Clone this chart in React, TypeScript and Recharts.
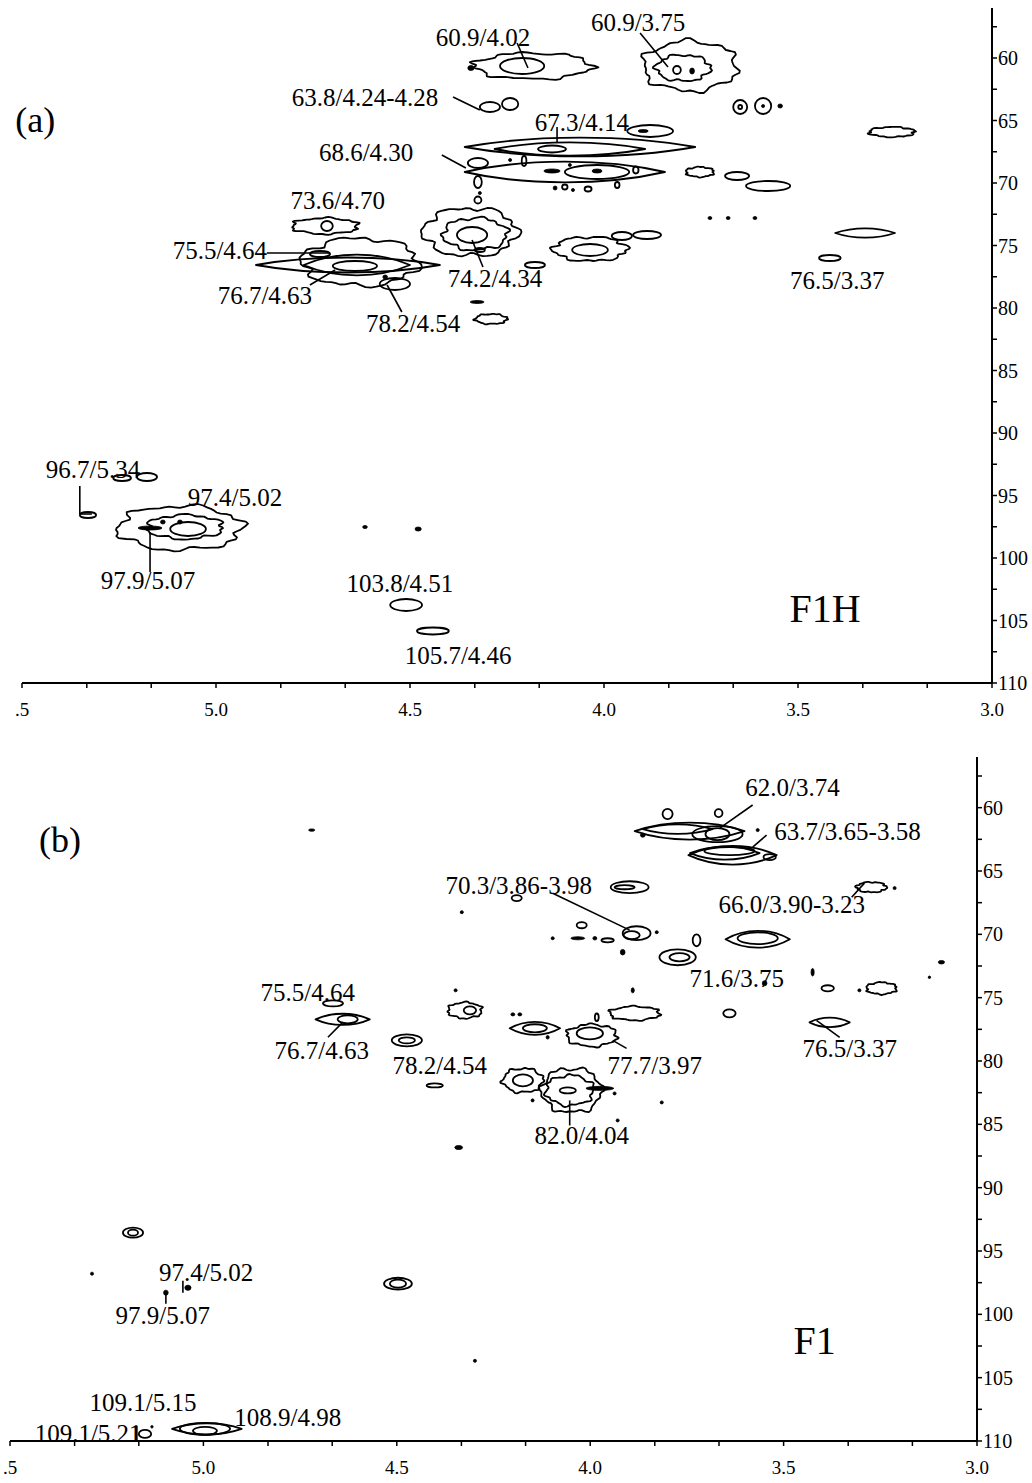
import React from 'react';
import { ComposedChart, XAxis, YAxis, Scatter, ReferenceArea, ReferenceLine, ReferenceDot } from 'recharts';

// [1H ppm, 13C ppm, half-width (ppm 1H), half-height (ppm 13C), kind]
// kind: e=contour ring, w=irregular contour ring, l=elongated contour, f=filled spot
type Contour = [number, number, number, number, string];
type Label = [string, number, number];
type Leader = [number, number, number, number];

const xTicks = [5.5, 5.333, 5.167, 5.0, 4.833, 4.667, 4.5, 4.333, 4.167, 4.0, 3.833, 3.667, 3.5, 3.333, 3.167, 3.0];
const xTickLabels: Record<string, string> = { '5.5': '.5', '5': '5.0', '4.5': '4.5', '4': '4.0', '3.5': '3.5', '3': '3.0' };
const yTicks = [57.5, 60, 62.5, 65, 67.5, 70, 72.5, 75, 77.5, 80, 82.5, 85, 87.5, 90, 92.5, 95, 97.5, 100, 102.5, 105, 107.5, 110];
const yTickLabels = [60, 65, 70, 75, 80, 85, 90, 95, 100, 105, 110];

const contoursA: Contour[] = [
  [4.183, 60.64, 0.150, 1.04, 'w'], [4.211, 60.64, 0.057, 0.64, 'e'], [4.343, 60.80, 0.008, 0.2, 'f'],
  [3.778, 60.64, 0.121, 2.0, 'w'], [3.796, 60.80, 0.070, 1.04, 'w'], [3.812, 60.96, 0.010, 0.32, 'e'], [3.773, 61.04, 0.006, 0.24, 'f'],
  [4.294, 63.92, 0.026, 0.40, 'e'], [4.242, 63.68, 0.021, 0.48, 'e'],
  [3.649, 63.92, 0.018, 0.56, 'e'], [3.649, 63.92, 0.005, 0.16, 'e'], [3.590, 63.84, 0.021, 0.64, 'e'], [3.590, 63.84, 0.004, 0.12, 'f'], [3.546, 63.84, 0.006, 0.16, 'f'],
  [4.062, 67.12, 0.297, 0.80, 'l'], [4.088, 67.28, 0.194, 0.56, 'l'], [4.134, 67.28, 0.036, 0.28, 'e'],
  [4.101, 69.12, 0.258, 0.88, 'l'], [4.018, 69.12, 0.083, 0.56, 'e'], [4.134, 69.04, 0.021, 0.16, 'f'], [4.018, 69.04, 0.013, 0.16, 'f'],
  [4.325, 68.40, 0.026, 0.40, 'e'], [4.325, 69.92, 0.010, 0.48, 'e'],
  [3.881, 65.84, 0.059, 0.48, 'e'], [3.899, 65.84, 0.013, 0.12, 'f'],
  [4.242, 68.16, 0.004, 0.12, 'f'], [4.206, 68.24, 0.006, 0.40, 'e'], [4.088, 68.56, 0.004, 0.12, 'f'],
  [4.126, 70.40, 0.005, 0.16, 'f'], [4.101, 70.32, 0.007, 0.20, 'e'], [4.080, 70.56, 0.004, 0.12, 'f'], [4.041, 70.48, 0.009, 0.20, 'e'],
  [3.966, 70.16, 0.006, 0.24, 'e'], [3.918, 68.96, 0.007, 0.28, 'e'],
  [4.325, 71.36, 0.009, 0.28, 'e'], [4.320, 70.80, 0.004, 0.12, 'f'],
  [3.753, 69.12, 0.036, 0.40, 'w'], [3.657, 69.44, 0.031, 0.32, 'e'], [3.577, 70.24, 0.057, 0.40, 'e'], [3.258, 65.92, 0.059, 0.40, 'w'],
  [3.727, 72.80, 0.005, 0.12, 'f'], [3.680, 72.80, 0.005, 0.12, 'f'], [3.611, 72.80, 0.005, 0.12, 'f'],
  [3.327, 74.00, 0.077, 0.40, 'l'], [3.418, 76.00, 0.028, 0.24, 'e'],
  [4.345, 73.92, 0.121, 1.92, 'w'], [4.332, 74.08, 0.083, 1.28, 'w'], [4.340, 74.16, 0.039, 0.64, 'e'], [4.320, 75.36, 0.013, 0.16, 'e'],
  [4.036, 75.28, 0.095, 0.96, 'w'], [4.036, 75.36, 0.046, 0.48, 'e'], [3.954, 74.24, 0.026, 0.32, 'e'], [3.889, 74.16, 0.036, 0.32, 'e'],
  [4.178, 76.56, 0.026, 0.24, 'e'],
  [4.719, 73.44, 0.085, 0.64, 'w'], [4.714, 73.44, 0.015, 0.40, 'e'],
  [4.660, 76.56, 0.237, 0.64, 'l'], [4.637, 76.56, 0.137, 0.88, 'l'], [4.642, 76.64, 0.057, 0.40, 'e'], [4.629, 76.32, 0.150, 1.90, 'w'],
  [4.539, 78.08, 0.039, 0.48, 'e'], [4.564, 77.52, 0.006, 0.16, 'f'], [4.732, 75.68, 0.026, 0.24, 'e'],
  [4.327, 79.52, 0.018, 0.12, 'f'], [4.291, 80.88, 0.041, 0.40, 'w'],
  [5.242, 93.60, 0.023, 0.24, 'e'], [5.178, 93.52, 0.026, 0.32, 'e'], [5.330, 96.56, 0.021, 0.24, 'e'],
  [5.093, 97.60, 0.160, 1.76, 'w'], [5.080, 97.52, 0.098, 0.96, 'w'], [5.072, 97.68, 0.046, 0.56, 'e'],
  [5.170, 97.60, 0.031, 0.16, 'f'], [5.137, 97.12, 0.006, 0.16, 'f'], [5.093, 97.12, 0.006, 0.16, 'f'],
  [4.616, 97.52, 0.006, 0.12, 'f'], [4.479, 97.68, 0.008, 0.16, 'f'],
  [4.510, 103.76, 0.041, 0.48, 'e'], [4.441, 105.84, 0.041, 0.28, 'e'],
];

const labelsA: Label[] = [
  ['60.9/4.02', 4.312, 58.32], ['60.9/3.75', 3.912, 57.12], ['63.8/4.24-4.28', 4.616, 63.12],
  ['67.3/4.14', 4.057, 65.12], ['68.6/4.30', 4.613, 67.52], ['73.6/4.70', 4.686, 71.36],
  ['75.5/4.64', 4.990, 75.36], ['74.2/4.34', 4.281, 77.60], ['76.7/4.63', 4.874, 78.96],
  ['78.2/4.54', 4.492, 81.20], ['76.5/3.37', 3.399, 77.76], ['96.7/5.34', 5.317, 92.88],
  ['97.4/5.02', 4.951, 95.12], ['97.9/5.07', 5.175, 101.76], ['103.8/4.51', 4.526, 102.0],
  ['105.7/4.46', 4.376, 107.76],
];

const leadersA: Leader[] = [
  [4.224, 58.80, 4.196, 60.80], [3.907, 58.0, 3.835, 60.72], [4.389, 63.12, 4.320, 64.16],
  [4.121, 65.52, 4.121, 66.72], [4.418, 67.76, 4.356, 68.80], [4.340, 74.56, 4.312, 76.72],
  [4.869, 75.60, 4.706, 75.60], [4.758, 78.16, 4.693, 76.96], [4.559, 78.16, 4.521, 80.32],
  [5.351, 94.24, 5.351, 96.48], [5.351, 96.48, 5.320, 96.48], [5.170, 97.92, 5.170, 101.12],
];

const contoursB: Contour[] = [
  [3.743, 61.85, 0.142, 0.71, 'l'], [3.774, 61.69, 0.090, 0.40, 'l'], [3.671, 62.09, 0.065, 0.63, 'e'], [3.671, 62.09, 0.031, 0.47, 'e'],
  [3.800, 60.50, 0.013, 0.40, 'e'], [3.668, 60.43, 0.010, 0.32, 'e'], [3.864, 62.17, 0.006, 0.16, 'f'], [3.567, 61.77, 0.004, 0.12, 'f'],
  [3.632, 63.75, 0.114, 0.79, 'l'], [3.652, 63.59, 0.090, 0.55, 'l'], [3.640, 63.43, 0.065, 0.32, 'e'], [3.536, 63.90, 0.016, 0.24, 'e'],
  [3.898, 66.28, 0.049, 0.47, 'e'], [3.911, 66.28, 0.026, 0.16, 'e'], [4.190, 67.14, 0.013, 0.24, 'e'],
  [3.273, 66.28, 0.039, 0.40, 'w'], [3.213, 66.35, 0.004, 0.12, 'f'],
  [3.880, 69.91, 0.036, 0.55, 'e'], [3.893, 70.07, 0.021, 0.32, 'e'], [4.022, 69.28, 0.013, 0.24, 'e'],
  [4.032, 70.31, 0.018, 0.12, 'f'], [3.988, 70.31, 0.005, 0.14, 'f'], [3.955, 70.47, 0.016, 0.16, 'e'],
  [3.916, 71.41, 0.006, 0.22, 'f'], [4.097, 70.31, 0.004, 0.12, 'f'], [4.332, 68.25, 0.004, 0.12, 'f'], [3.828, 69.83, 0.004, 0.12, 'f'],
  [3.725, 70.47, 0.010, 0.47, 'e'],
  [3.567, 70.39, 0.083, 0.71, 'l'], [3.567, 70.31, 0.052, 0.47, 'e'],
  [3.774, 71.81, 0.047, 0.63, 'e'], [3.769, 71.81, 0.026, 0.32, 'e'], [3.549, 73.86, 0.006, 0.20, 'f'],
  [3.425, 72.99, 0.004, 0.30, 'f'], [3.386, 74.26, 0.016, 0.24, 'e'], [3.304, 74.42, 0.004, 0.12, 'f'], [3.247, 74.26, 0.039, 0.47, 'w'],
  [3.092, 72.20, 0.008, 0.14, 'f'], [3.123, 73.39, 0.003, 0.10, 'f'],
  [3.381, 76.95, 0.052, 0.40, 'l'],
  [3.885, 76.24, 0.065, 0.55, 'w'], [3.890, 74.42, 0.004, 0.20, 'f'], [3.640, 76.24, 0.016, 0.32, 'e'],
  [4.324, 76.00, 0.044, 0.63, 'w'], [4.311, 76.00, 0.016, 0.32, 'e'], [4.348, 74.42, 0.004, 0.12, 'f'],
  [4.143, 77.42, 0.065, 0.55, 'l'], [4.143, 77.42, 0.031, 0.32, 'e'], [4.200, 76.32, 0.005, 0.12, 'f'], [4.182, 76.32, 0.005, 0.12, 'f'], [4.110, 78.13, 0.004, 0.14, 'f'],
  [3.996, 77.98, 0.065, 0.87, 'w'], [4.001, 77.82, 0.034, 0.47, 'e'], [3.983, 76.55, 0.005, 0.30, 'e'],
  [4.474, 78.37, 0.039, 0.47, 'e'], [4.474, 78.37, 0.021, 0.24, 'e'], [4.402, 81.93, 0.021, 0.16, 'e'],
  [4.665, 75.45, 0.026, 0.24, 'e'], [4.640, 76.71, 0.070, 0.47, 'l'], [4.627, 76.71, 0.026, 0.32, 'e'],
  [4.048, 82.32, 0.078, 1.74, 'w'], [4.053, 82.32, 0.062, 1.19, 'w'], [4.058, 82.32, 0.021, 0.24, 'e'], [3.975, 82.16, 0.036, 0.16, 'f'],
  [4.174, 81.53, 0.052, 0.95, 'w'], [4.174, 81.53, 0.026, 0.47, 'e'],
  [4.149, 83.11, 0.004, 0.12, 'f'], [3.937, 82.56, 0.004, 0.12, 'f'], [3.815, 83.27, 0.004, 0.12, 'f'], [3.929, 84.69, 0.004, 0.12, 'f'], [4.340, 86.83, 0.010, 0.16, 'f'],
  [5.182, 93.55, 0.026, 0.40, 'e'], [5.182, 93.55, 0.013, 0.24, 'e'], [5.288, 96.79, 0.004, 0.12, 'f'],
  [5.040, 97.90, 0.008, 0.20, 'f'], [5.097, 98.29, 0.006, 0.20, 'f'],
  [4.497, 97.58, 0.036, 0.47, 'e'], [4.497, 97.58, 0.021, 0.32, 'e'], [4.298, 103.67, 0.004, 0.12, 'f'],
  [5.151, 109.44, 0.016, 0.32, 'e'], [5.133, 108.88, 0.003, 0.10, 'f'],
  [4.991, 109.04, 0.090, 0.47, 'l'], [4.996, 109.04, 0.065, 0.47, 'e'], [4.996, 109.20, 0.031, 0.32, 'e'],
  [4.720, 61.77, 0.008, 0.06, 'f'],
];

const labelsB: Label[] = [
  ['62.0/3.74', 3.477, 58.37], ['63.7/3.65-3.58', 3.335, 61.85], ['70.3/3.86-3.98', 4.185, 66.12],
  ['66.0/3.90-3.23', 3.479, 67.62], ['71.6/3.75', 3.621, 73.47], ['75.5/4.64', 4.730, 74.58],
  ['76.7/4.63', 4.694, 79.16], ['78.2/4.54', 4.389, 80.35], ['77.7/3.97', 3.833, 80.35],
  ['76.5/3.37', 3.329, 79.00], ['82.0/4.04', 4.022, 85.88], ['97.4/5.02', 4.993, 96.71],
  ['97.9/5.07', 5.105, 100.11], ['109.1/5.15', 5.156, 106.99], ['109.1/5.21', 5.298, 109.44],
  ['108.9/4.98', 4.782, 108.17],
];

const leadersB: Leader[] = [
  [3.580, 59.79, 3.665, 61.61], [3.544, 62.17, 3.580, 63.11], [3.324, 67.07, 3.291, 65.96],
  [4.097, 66.75, 3.898, 69.67], [3.355, 78.13, 3.415, 76.79], [3.942, 78.37, 3.906, 79.00],
  [4.678, 78.13, 4.640, 76.95], [4.053, 83.11, 4.053, 85.09], [5.053, 97.34, 5.053, 98.29],
  [5.097, 98.29, 5.097, 99.16], [5.172, 108.80, 5.172, 109.99],
];

const panelTags: Label[] = [['(a)', 5.466, 64.96], ['(b)', 5.371, 62.56]];
const sampleNames: Label[] = [['F1H', 3.430, 104.0], ['F1', 3.420, 102.09]];

const FONT = "'Liberation Serif', 'Times New Roman', serif";

const contourShape = (kind: string, seed: number) => (p: any) => {
  const { x, y, width, height } = p;
  if (![x, y, width, height].every((v) => Number.isFinite(v))) return <g />;
  const rx = Math.abs(width) / 2;
  const ry = Math.abs(height) / 2;
  const cx = x + width / 2;
  const cy = y + height / 2;
  if (kind === 'f') {
    return <ellipse cx={cx} cy={cy} rx={Math.max(rx, 1.2)} ry={Math.max(ry, 1.2)} fill="#000" stroke="#000" strokeWidth={0.8} />;
  }
  if (kind === 'l') {
    const k = 1.25;
    const d = `M ${cx - rx} ${cy} C ${cx - rx * 0.4} ${cy - ry * k} ${cx + rx * 0.4} ${cy - ry * k} ${cx + rx} ${cy} C ${cx + rx * 0.4} ${cy + ry * k} ${cx - rx * 0.4} ${cy + ry * k} ${cx - rx} ${cy} Z`;
    return <path d={d} fill="none" stroke="#000" strokeWidth={1.8} strokeLinejoin="round" />;
  }
  if (kind === 'w') {
    const n = 72;
    const pts: string[] = [];
    for (let i = 0; i < n; i++) {
      const t = (2 * Math.PI * i) / n;
      const f = 1 + 0.07 * Math.sin(6 * t + seed) + 0.045 * Math.sin(11 * t + 2.3 * seed) + 0.03 * Math.sin(17 * t + seed * 0.7);
      pts.push(`${(cx + rx * f * Math.cos(t)).toFixed(1)},${(cy + ry * f * Math.sin(t)).toFixed(1)}`);
    }
    return <polygon points={pts.join(' ')} fill="none" stroke="#000" strokeWidth={1.8} strokeLinejoin="round" />;
  }
  return <ellipse cx={cx} cy={cy} rx={Math.max(rx, 1)} ry={Math.max(ry, 1)} fill="none" stroke="#000" strokeWidth={1.8} />;
};

const textShape = (text: string, size: number) => (p: any) => (
  <text x={p.cx} y={p.cy} textAnchor="middle" dominantBaseline="central" fontFamily={FONT} fontSize={size} fill="#000">
    {text}
  </text>
);

type PanelProps = {
  contours: Contour[];
  labels: Label[];
  leaders: Leader[];
  tag: Label;
  name: Label;
  height: number;
  margin: { top: number; right: number; bottom: number; left: number };
};

const Panel = ({ contours, labels, leaders, tag, name, height, margin }: PanelProps) => {
  const centers = contours.map((c) => ({ x: c[0], y: c[1] }));
  return (
    <ComposedChart width={1032} height={height} margin={margin}>
      <XAxis
        type="number"
        dataKey="x"
        domain={[3.0, 5.5]}
        reversed
        allowDataOverflow
        ticks={xTicks}
        interval={0}
        tickFormatter={(v: number) => xTickLabels[String(Math.round(v * 1000) / 1000)] ?? ''}
        tick={{ fontFamily: FONT, fontSize: 19, fill: '#000' }}
        tickSize={5}
        tickMargin={15}
        height={44}
        axisLine={{ stroke: '#000', strokeWidth: 2 }}
        tickLine={{ stroke: '#000', strokeWidth: 1.5 }}
      />
      <YAxis
        type="number"
        dataKey="y"
        orientation="right"
        domain={[56, 110]}
        reversed
        allowDataOverflow
        ticks={yTicks}
        interval={0}
        tickFormatter={(v: number) => (yTickLabels.includes(v) ? String(v) : '')}
        tick={{ fontFamily: FONT, fontSize: 20, fill: '#000' }}
        tickSize={5}
        tickMargin={1}
        width={40}
        axisLine={{ stroke: '#000', strokeWidth: 2 }}
        tickLine={{ stroke: '#000', strokeWidth: 1.5 }}
      />
      <Scatter data={centers} isAnimationActive={false} shape={() => <g />} />
      {contours.map((c, i) => (
        <ReferenceArea
          key={`c${i}`}
          x1={c[0] + c[2]}
          x2={c[0] - c[2]}
          y1={c[1] - c[3]}
          y2={c[1] + c[3]}
          ifOverflow="visible"
          shape={contourShape(c[4], i * 1.7 + 0.4)}
        />
      ))}
      {leaders.map((l, i) => (
        <ReferenceLine
          key={`l${i}`}
          segment={[{ x: l[0], y: l[1] }, { x: l[2], y: l[3] }]}
          stroke="#000"
          strokeWidth={1.6}
          ifOverflow="visible"
        />
      ))}
      {labels.map((t, i) => (
        <ReferenceDot key={`t${i}`} x={t[1]} y={t[2]} r={1} ifOverflow="visible" shape={textShape(t[0], 25)} />
      ))}
      <ReferenceDot x={tag[1]} y={tag[2]} r={1} ifOverflow="visible" shape={textShape(tag[0], 36)} />
      <ReferenceDot x={name[1]} y={name[2]} r={1} ifOverflow="visible" shape={textShape(name[0], 40)} />
    </ComposedChart>
  );
};

export default function App() {
  return (
    <div style={{ position: 'absolute', left: 0, top: 0, width: 1032, height: 1483, background: '#fff' }}>
      <div style={{ position: 'absolute', left: 0, top: 0 }}>
        <Panel
          contours={contoursA}
          labels={labelsA}
          leaders={leadersA}
          tag={panelTags[0]}
          name={sampleNames[0]}
          height={739}
          margin={{ top: 8, right: 0, bottom: 12, left: 22 }}
        />
      </div>
      <div style={{ position: 'absolute', left: 0, top: 740 }}>
        <Panel
          contours={contoursB}
          labels={labelsB}
          leaders={leadersB}
          tag={panelTags[1]}
          name={sampleNames[1]}
          height={743}
          margin={{ top: 17, right: 15, bottom: -2, left: 10 }}
        />
      </div>
    </div>
  );
}
